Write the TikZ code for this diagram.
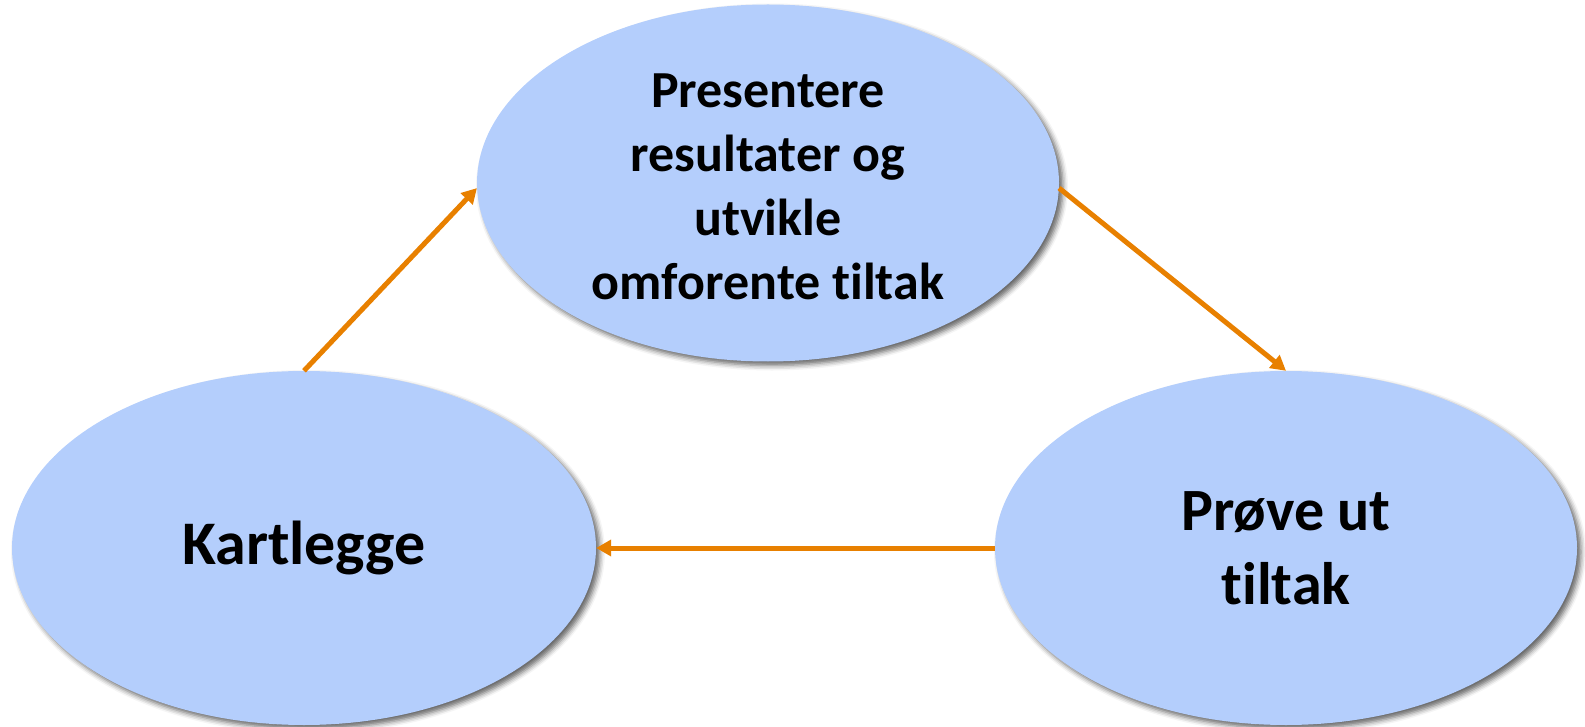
\documentclass[tikz,border=0pt]{standalone}
\usepackage{fontspec}
\setmainfont{Carlito}[Ligatures=NoCommon]
\usetikzlibrary{shapes.geometric,arrows.meta,shadows.blur}
\definecolor{ellfill}{RGB}{180,206,252}
\definecolor{arrorange}{RGB}{232,128,0}
\tikzset{
  bubble/.style={ellipse, fill=ellfill, inner sep=0pt, align=center,
    blur shadow={shadow xshift=4pt, shadow yshift=-4pt, shadow blur radius=5pt, shadow opacity=60}},
  flow/.style={draw=arrorange, line width=5pt, -{Triangle[length=15pt,width=16pt]}}
}
\begin{document}
\begin{tikzpicture}[x=1pt,y=-1pt]
\useasboundingbox (0,0) rectangle (1585,727);
\node[bubble, minimum width=582pt, minimum height=357pt] (top) at (768,183) {};
\node[font=\bfseries\fontsize{52}{64}\selectfont, align=center, inner sep=0pt] (toptext) at (768,187)
  {Presentere\\resultater og\\utvikle\\omforente tiltak};
\node[bubble, minimum width=584pt, minimum height=354pt,
  font=\bfseries\fontsize{62}{74}\selectfont] (left) at (304,548)
  {Kartlegge};
\node[bubble, minimum width=582pt, minimum height=354pt,
  font=\bfseries\fontsize{60}{74}\selectfont] (right) at (1286,548)
  {Prøve ut\\tiltak};
\draw[flow] (left.north) -- (top.181);
\draw[flow] (top.-1) -- (right.north);
\draw[flow] (right.west) -- (left.east);
\end{tikzpicture}
\end{document}
